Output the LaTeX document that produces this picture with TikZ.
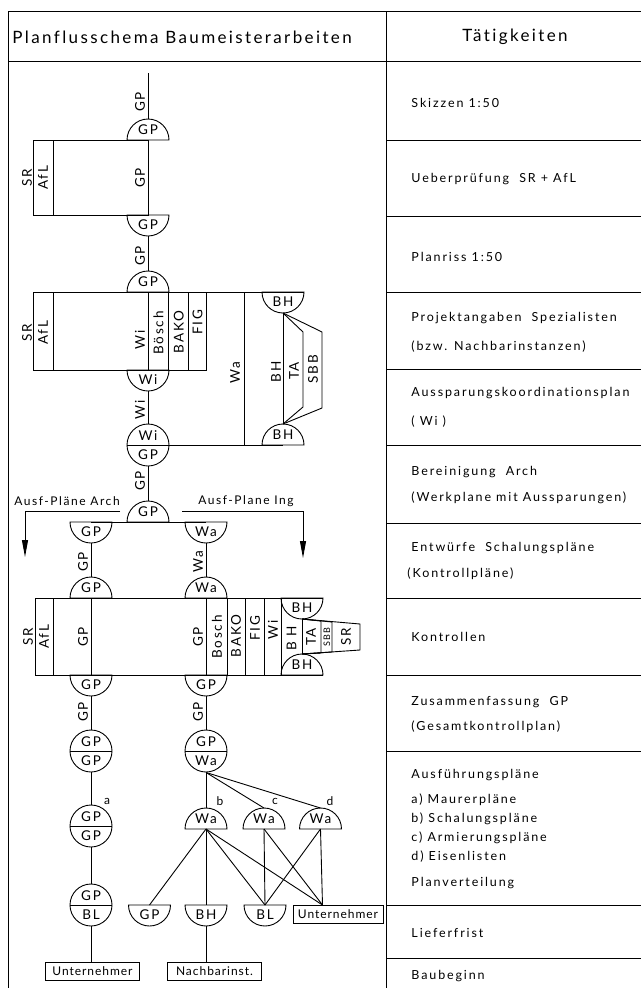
\documentclass[tikz,border=0pt]{standalone}
\usepackage{fontspec}
\setmainfont{Lato}
\newfontfamily\dfont{Lato}[LetterSpace=13,Ligatures=NoCommon]
\newfontfamily\afont{Lato}[LetterSpace=15,Ligatures=NoCommon]
\newfontfamily\hfont{Lato}[LetterSpace=14,Ligatures=NoCommon]
\newfontfamily\bxfont{Lato}[LetterSpace=8,Ligatures=NoCommon]
\usetikzlibrary{arrows.meta}
\tikzset{
  lbl/.style={font=\dfont\fontsize{13.5}{14}\selectfont, inner sep=0pt},
  tlbl/.style={font=\dfont\fontsize{12}{13}\selectfont, inner sep=0pt},
  smlbl/.style={font=\dfont\fontsize{9}{10}\selectfont, inner sep=0pt, rotate=90},
  rl/.style={lbl, rotate=90},
  act/.style={font=\afont\fontsize{12.5}{13}\selectfont, anchor=west, inner sep=0pt},
  hdr/.style={font=\hfont\fontsize{17}{19}\selectfont, inner sep=0pt},
  boxed/.style={draw, line width=0.9pt, minimum height=18pt, inner sep=1pt, font=\bxfont\fontsize{12}{13}\selectfont},
  arr/.style={-{Triangle[length=17pt,width=6pt]}},
}
\newcommand\mydome[3]{%
  \coordinate (#1) at (#2);
  \draw ([xshift=-21pt]#1) arc[start angle=180,end angle=0,radius=21pt] -- cycle;
  \node[lbl] (#1-l) at ([yshift=10pt]#1) {#3};
  \coordinate (#1-t) at ([yshift=21pt]#1);
}
\newcommand\mybowl[3]{%
  \coordinate (#1) at (#2);
  \draw ([xshift=-21pt]#1) arc[start angle=180,end angle=360,radius=21pt] -- cycle;
  \node[lbl] (#1-l) at ([yshift=-10pt]#1) {#3};
  \coordinate (#1-b) at ([yshift=-21pt]#1);
}
\newcommand\mycirc[4]{%
  \node[draw, circle, minimum size=42pt, inner sep=0pt] (#1) at (#2) {};
  \draw (#1.west) -- (#1.east);
  \node[lbl] at ([yshift=9.5pt]#1.center) {#3};
  \node[lbl] at ([yshift=-9.5pt]#1.center) {#4};
}
\begin{document}
\begin{tikzpicture}[x=1pt,y=-1pt,line width=0.9pt]
\useasboundingbox (0,0) rectangle (641,988);
\fill[white] (0,0) rectangle (641,988);
% frame
\draw (8,988) -- (8,11) -- (641,11);
\draw (8,61) -- (641,61);
\draw (386,11) -- (386,988);
\foreach \yy in {140,216,292,369,445,523,598,675,751,905,958} \draw (386,\yy) -- (641,\yy);
\node[hdr, anchor=west] (t1) at (12,37) {Planflusschema Baumeisterarbeiten};
\node[hdr] (t2) at (515,37) {Tätigkeiten};
% activities
\node[act] (r1) at (411,103) {Skizzen 1:50};
\node[act] (r2) at (411,179) {Ueberprüfung \ SR + AfL};
\node[act] (r3) at (411,257) {Planriss 1:50};
\node[act] (r4) at (411,318) {Projektangaben \ Spezialisten};
\node[act] (r5) at (411,347) {(bzw. Nachbarinstanzen)};
\node[act] (r6) at (411,393) {Aussparungskoordinationsplan};
\node[act] (r7) at (411,422) {( Wi )};
\node[act] (r8) at (411,472) {Bereinigung \ Arch};
\node[act] (r9) at (411,498) {(Werkplane mit Aussparungen)};
\node[act] (r10) at (411,548) {Entwürfe \ Schalungspläne};
\node[act] (r11) at (407,574) {(Kontrollpläne)};
\node[act] (r12) at (411,637) {Kontrollen};
\node[act] (r13) at (411,702) {Zusammenfassung \ GP};
\node[act] (r14) at (411,727) {(Gesamtkontrollplan)};
\node[act] (r15) at (411,775) {Ausführungspläne};
\node[act] (r16) at (411,800) {a) Maurerpläne};
\node[act] (r17) at (411,819) {b) Schalungspläne};
\node[act] (r18) at (411,838) {c) Armierungspläne};
\node[act] (r19) at (411,857) {d) Eisenlisten};
\node[act] (r20) at (411,883) {Planverteilung};
\node[act] (r21) at (411,933) {Lieferfrist};
\node[act] (r22) at (411,976) {Baubeginn};
% ---- section 1
\coordinate (s0) at (148,73);
\mydome{d1}{148,140}{GP}
\draw (s0) -- (d1-t);
\node[rl] at (140,102) {GP};
\draw (33,140) rectangle (148,215);
\draw (53,140) -- (53,215);
\node[rl] at (27,178) {SR};
\node[rl] at (43,178) {AfL};
\node[rl] at (140,178) {GP};
\mybowl{b1}{148,215}{GP}
\mydome{d2}{148,292}{GP}
\draw (b1-b) -- (d2-t);
\node[rl] at (140,256) {GP};
% ---- box B
\draw (33,292) rectangle (206,370);
\draw (206,292) -- (304,292);
\foreach \xx in {53,148,168.7,188.7} \draw (\xx,292) -- (\xx,370);
\node[rl] at (27,333) {SR};
\node[rl] at (43,333) {AfL};
\node[rl] at (140,340) {Wi};
\node[rl] at (158.5,333) {Bösch};
\node[rl] at (178.7,332) {BAKO};
\node[rl] at (197.5,322) {FIG};
\draw (244,292) -- (244,445);
\node[rl] at (235,373) {Wa};
\mybowl{bh1}{283,292}{BH}
\mydome{bh2}{283,445}{BH}
\draw (bh1-b) -- (bh2-t);
\draw (bh1-b) -- (303,332) -- (303,407) -- (bh2-t);
\draw (bh1-b) -- (322,332) -- (322,408) -- (bh2-t);
\node[rl] at (276,372) {BH};
\node[rl] at (294,371) {TA};
\node[rl] at (313,369) {SBB};
\mybowl{wi1}{148,370}{Wi}
\mycirc{c1}{148,445}{Wi}{GP}
\draw (wi1-b) -- (c1.north);
\node[rl] at (140,410) {Wi};
\draw (c1.east) -- (bh2);
\mydome{d3}{148,522}{GP}
\draw (c1.south) -- (d3-t);
\node[rl] at (140,481) {GP};
\mybowl{b2}{91,522}{GP}
\mybowl{b3}{206,522}{Wa}
\draw (b2) -- (b3);
% arrows
\coordinate (a1s) at (120,511); \coordinate (a1e) at (25,557);
\draw[arr] (a1s) -| (a1e);
\node[tlbl] at (67,501) {Ausf-Pläne Arch};
\coordinate (a2s) at (182,511); \coordinate (a2e) at (303,558);
\draw[arr] (a2s) -| (a2e);
\node[tlbl] at (246,501) {Ausf-Plane Ing};
% chains
\mydome{d4}{91,598}{GP}
\mydome{d5}{206,598}{Wa}
\draw (b2-b) -- (d4-t); \node[rl] at (83,562) {GP};
\draw (b3-b) -- (d5-t); \node[rl] at (198,562) {Wa};
% ---- box C
\draw (35,598) -- (323,598);
\draw (35,675) -- (323,675);
\foreach \xx in {35,53,91,206,227,245,264,281} \draw (\xx,598) -- (\xx,675);
\node[rl] at (28,637) {SR};
\node[rl] at (44,637) {AfL};
\node[rl] at (83,637) {GP};
\node[rl] at (198,637) {GP};
\node[rl] at (217,637) {Bosch};
\node[rl] at (236,636) {BAKO};
\node[rl] at (255,628) {FIG};
\node[rl] at (273,630) {Wi};
\mybowl{bh3}{302,598}{BH}
\mydome{bh4}{302,675}{BH}
\draw (bh3-b) -- (bh4-t);
\draw (bh3-b) -- (321,621) -- (321,653) -- (bh4-t);
\draw (bh3-b) -- (332,622) -- (332,652) -- (bh4-t);
\draw (bh3-b) -- (360,624) -- (360,650) -- (bh4-t);
\node[rl] at (291.5,638) {B H};
\node[rl] at (311,637) {TA};
\node[smlbl] at (327,637) {SBB};
\node[rl] at (346,637) {SR};
\mybowl{b4}{91,675}{GP}
\mybowl{b5}{206,675}{GP}
\mycirc{c2}{91,751}{GP}{GP}
\mycirc{c3}{206,751}{GP}{Wa}
\draw (b4-b) -- (c2.north); \node[rl] at (83,712) {GP};
\draw (b5-b) -- (c3.north); \node[rl] at (198,712) {GP};
\mycirc{c4}{91,826}{GP}{GP}
\draw (c2.south) -- (c4.north);
\node[tlbl] at (107,801) {a};
\mycirc{c5}{91,905}{GP}{BL}
\draw (c4.south) -- (c5.north);
\node[boxed, minimum width=94pt] (u1) at (92.5,971) {Unternehmer};
\draw (c5.south) -- (c5.south |- u1.north);
% distribution
\mydome{w1}{206,829}{Wa}
\mydome{w2}{264,829}{Wa}
\mydome{w3}{320.5,829}{Wa}
\draw (c3.south) -- (w1-t);
\draw (c3.south) -- (w2-t);
\draw (c3.south) -- (w3-t);
\node[tlbl] at (220,801) {b};
\node[tlbl] at (275,801) {c};
\node[tlbl] at (330,801) {d};
\mybowl{g1}{149.5,905}{GP}
\mybowl{g2}{206,905}{BH}
\mybowl{g3}{265,905}{BL}
\node[boxed, minimum width=90pt] (u2) at (338,914) {Unternehmer};
\coordinate (u2t) at (322.5,905);
\draw (w1) -- (g1);
\draw (w1) -- (g2);
\draw (w1) -- (g3);
\draw (w1) -- (u2t);
\draw (w2) -- (g3);
\draw (w2) -- (u2t);
\draw (w3) -- (g3);
\draw (w3) -- (u2t);
\node[boxed, minimum width=94pt] (nb) at (214.5,971) {Nachbarinst.};
\draw (g2-b) -- (g2-b |- nb.north);
\end{tikzpicture}
\end{document}
